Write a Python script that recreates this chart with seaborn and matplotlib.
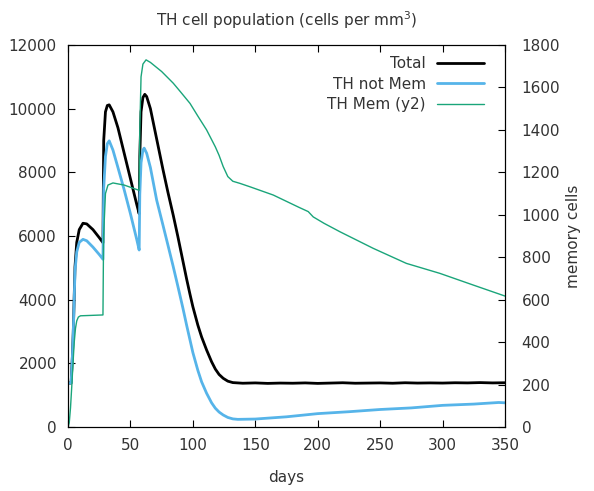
import matplotlib
matplotlib.use("Agg")
import matplotlib.pyplot as plt
import seaborn as sns
import pandas as pd

# ---- data ----
total_days = [0, 2.5, 3.5, 4.2, 5.6, 7, 9, 12, 15, 20, 25, 28,
              28.6, 30, 31.5, 33, 36, 40, 45, 50, 55, 57,
              57.5, 58.5, 60, 61.5, 63, 66, 71, 76, 80, 84.3, 88, 92, 95, 97.7, 100, 104, 107,
              111, 115, 118, 121, 124.3, 128, 132,
              140, 150, 160, 170, 180, 190, 200, 210, 220, 230, 240, 250, 260, 270, 280, 290,
              300, 310, 320, 330, 340, 350]
total_vals = [1380, 1380, 2200, 2950, 5035, 5800, 6200, 6400, 6380, 6200, 5950, 5790,
              9000, 9900, 10100, 10120, 9900, 9400, 8600, 7800, 7000, 6700,
              8500, 9900, 10350, 10450, 10380, 10000, 9050, 8100, 7380, 6650, 5980, 5220, 4650, 4170, 3780, 3200, 2830,
              2420, 2050, 1820, 1650, 1530, 1440, 1395,
              1375, 1385, 1370, 1380, 1375, 1385, 1370, 1380, 1390, 1375, 1380, 1385, 1375, 1390, 1380, 1385,
              1380, 1390, 1385, 1395, 1385, 1390]

notmem_days = [0, 2.5, 3.5, 4.2, 5.6, 7, 9, 12, 15, 20, 25, 28,
               28.6, 30, 31.5, 33, 36, 40, 45, 50, 55, 57,
               57.5, 58.5, 60, 61, 63, 66, 71, 76, 80, 84.3, 88, 92, 95, 97.7, 100, 104, 107,
               111, 115, 118, 121, 124.3, 128, 132, 136,
               150, 175, 200, 225, 250, 275, 300, 325, 345, 350]
notmem_vals = [1380, 1380, 2200, 2950, 4900, 5500, 5800, 5895, 5850, 5650, 5420, 5270,
               7500, 8500, 8900, 8990, 8700, 8150, 7450, 6700, 5900, 5560,
               7300, 8300, 8700, 8760, 8600, 8150, 7130, 6350, 5720, 5035, 4420, 3740, 3200, 2735, 2340, 1780, 1420,
               1060, 760, 590, 470, 377, 300, 255, 240,
               250, 320, 420, 480, 550, 600, 680, 720, 770, 760]

mem_days = [0, 1, 2, 3, 4, 5, 6, 7, 8.3, 10, 28,
            28.5, 30, 32, 36, 45, 57,
            57.5, 58.5, 60, 62.5, 66, 75, 84.3, 90, 97.7, 104, 111, 118, 121, 124.3, 128, 132,
            137.7, 145.7, 164.4, 185, 192.4, 196.4, 205, 217.8, 244.4, 271, 297.8, 324.5, 350]
mem_vals = [0, 20, 90, 190, 300, 400, 465, 500, 518, 524, 528,
            900, 1100, 1140, 1150, 1140, 1115,
            1400, 1650, 1710, 1730, 1718, 1675, 1620, 1580, 1525, 1465, 1400, 1320, 1280, 1227, 1180, 1158,
            1148, 1132, 1093, 1035, 1015, 990, 960, 920, 842, 771, 724, 669, 617]

x_ticks = [0, 50, 100, 150, 200, 250, 300, 350]
y_ticks = [0, 2000, 4000, 6000, 8000, 10000, 12000]
y2_ticks = [0, 200, 400, 600, 800, 1000, 1200, 1400, 1600, 1800]

# ---- style ----
sns.set_style("ticks")
TXT = "#333333"
plt.rcParams.update({
    "font.family": ["DejaVu Sans"],
    "font.size": 11,
    "text.color": TXT,
    "axes.labelcolor": TXT,
    "xtick.color": "#000000",
    "ytick.color": "#000000",
    "xtick.labelcolor": TXT,
    "ytick.labelcolor": TXT,
    "axes.edgecolor": "#000000",
    "axes.linewidth": 0.8,
})

fig = plt.figure(figsize=(5.94, 4.91), dpi=100)
ax = fig.add_axes([68 / 594, 64 / 491, (505 - 68) / 594, (427 - 45) / 491])
ax2 = ax.twinx()

df_total = pd.DataFrame({"days": total_days, "v": total_vals})
df_nm = pd.DataFrame({"days": notmem_days, "v": notmem_vals})
df_mem = pd.DataFrame({"days": mem_days, "v": mem_vals})

sns.lineplot(data=df_total, x="days", y="v", ax=ax, color="#000000", lw=2.0, label="Total", legend=False)
sns.lineplot(data=df_nm, x="days", y="v", ax=ax, color="#56b4e9", lw=2.0, label="TH not Mem", legend=False)
sns.lineplot(data=df_mem, x="days", y="v", ax=ax2, color="#1aa57a", lw=1.0, label="TH Mem (y2)", legend=False)

ax.set_xlim(0, 350)
ax.set_ylim(0, 12000)
ax2.set_ylim(0, 1800)
ax.set_xticks(x_ticks)
ax.set_yticks(y_ticks)
ax2.set_yticks(y2_ticks)

ax.tick_params(axis="x", direction="in", length=5, width=0.8, top=True, pad=8, labelsize=11)
ax.tick_params(axis="y", direction="in", length=5, width=0.8, right=False, pad=8, labelsize=11)
ax2.tick_params(axis="y", direction="in", length=5, width=0.8, left=False, pad=12, labelsize=11)

ax.set_xlabel("days", fontsize=11, labelpad=12)
ax.set_ylabel("")
ax2.set_ylabel("memory cells", fontsize=11, labelpad=4)
ax.set_title(r"TH cell population (cells per mm$^{\mathregular{3}}$)", fontsize=11, pad=14)

handles = ax.get_lines()[:2] + ax2.get_lines()[:1]
labels = ["Total", "TH not Mem", "TH Mem (y2)"]
ax2.legend(handles, labels, loc="upper right", bbox_to_anchor=(0.952, 0.970),
           frameon=False, markerfirst=False, handlelength=3.1, handletextpad=0.7,
           borderpad=0, borderaxespad=0, labelspacing=0.35, fontsize=11)

fig.savefig("out.png", dpi=100)
